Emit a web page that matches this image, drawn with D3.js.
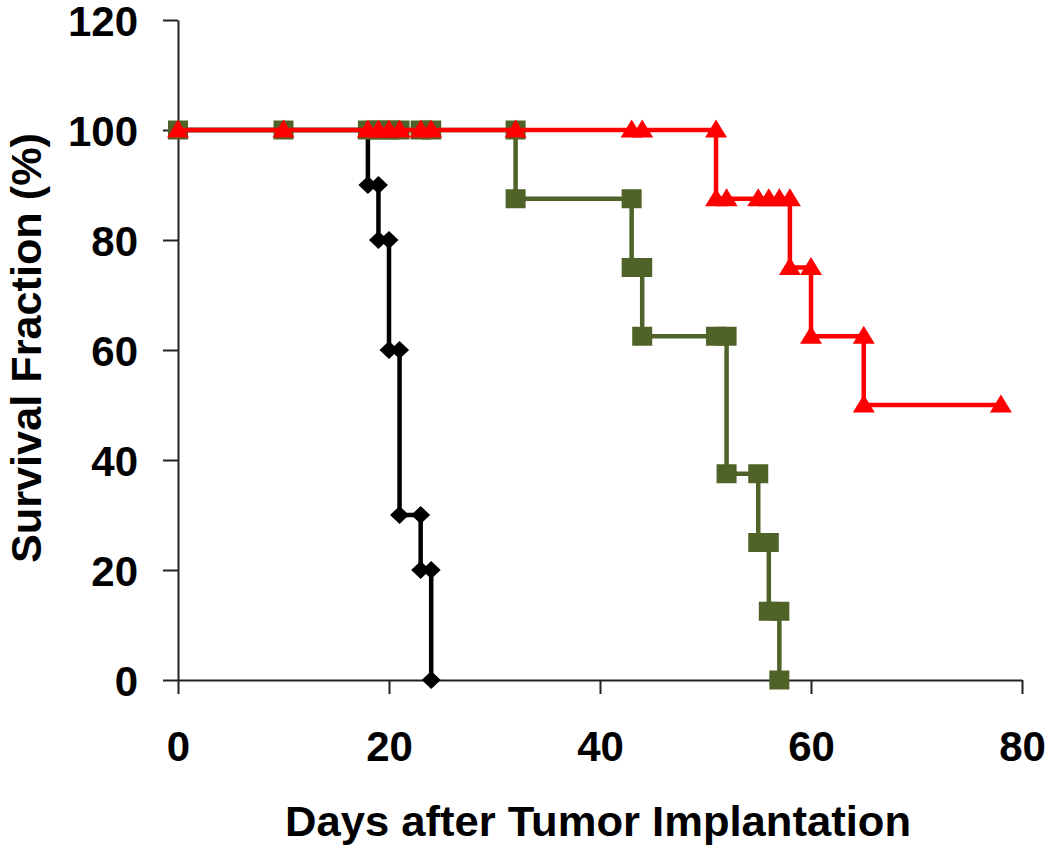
<!DOCTYPE html>
<html><head><meta charset="utf-8">
<script src="https://cdn.jsdelivr.net/npm/d3@7"></script>
<style>body{margin:0;background:#fff}</style>
</head><body>
<svg id="c" width="1050" height="848"></svg>
<script>
const xTicks = [0, 20, 40, 60, 80];
const yTicks = [0, 20, 40, 60, 80, 100, 120];

const blackDays = [0, 10, 18, 18, 19, 19, 20, 20, 21, 21, 23, 23, 24, 24];
const blackSurv = [100, 100, 100, 90, 90, 80, 80, 60, 60, 30, 30, 20, 20, 0];

const greenDays = [0, 10, 18, 19, 20, 21, 23, 24, 32, 32, 43, 43, 44, 44, 51, 52, 52, 55, 55, 56, 56, 57, 57];
const greenSurv = [100, 100, 100, 100, 100, 100, 100, 100, 100, 87.5, 87.5, 75, 75, 62.5, 62.5, 62.5, 37.5, 37.5, 25, 25, 12.5, 12.5, 0];

const redDays = [0, 10, 18, 19, 20, 21, 23, 24, 32, 43, 44, 51, 51, 52, 55, 56, 57, 58, 58, 60, 60, 65, 65, 78];
const redSurv = [100, 100, 100, 100, 100, 100, 100, 100, 100, 100, 100, 100, 87.5, 87.5, 87.5, 87.5, 87.5, 87.5, 75, 75, 62.5, 62.5, 50, 50];

const xTitle = "Days after Tumor Implantation";
const yTitle = "Survival Fraction (%)";

const svg = d3.select("#c");
const x = d3.scaleLinear().domain([0, 80]).range([178, 1022]);
const y = d3.scaleLinear().domain([0, 120]).range([680, 20]);
const FONT = "'Liberation Sans', Arial, sans-serif";

// axes
const xAxis = svg.append("g").attr("transform", `translate(0,${y(0)})`)
  .call(d3.axisBottom(x).tickValues(xTicks).tickSize(14).tickSizeOuter(0));
const yAxis = svg.append("g").attr("transform", `translate(${x(0)},0)`)
  .call(d3.axisLeft(y).tickValues(yTicks).tickSize(15).tickSizeOuter(0).tickPadding(25));
[xAxis, yAxis].forEach(a => {
  a.selectAll("path.domain").attr("stroke", "#222").attr("stroke-width", 2);
  a.selectAll(".tick line").attr("stroke", "#222").attr("stroke-width", 2);
  a.selectAll(".tick text").attr("font-family", FONT).attr("font-weight", "bold")
    .attr("font-size", 42).attr("fill", "#000");
});
xAxis.selectAll(".tick text").attr("dy", "0").attr("y", 81);
yAxis.selectAll(".tick text").attr("dy", "0.36em");

const line = d3.line().x(d => x(d[0])).y(d => y(d[1]));
const zip = (a, b) => a.map((v, i) => [v, b[i]]);

const diamond = "M0,-9L9.5,0L0,9L-9.5,0Z";
const square = "M-10,-9.5H10V9.5H-10Z";
const triangle = "M0,-10.5L11,7.5L-11,7.5Z";

const series = [
  {pts: zip(blackDays, blackSurv), color: "#000000", shape: diamond},
  {pts: zip(greenDays, greenSurv), color: "#4f6228", shape: square},
  {pts: zip(redDays, redSurv), color: "#ff0000", shape: triangle}
];
series.forEach(s => {
  const g = svg.append("g");
  g.append("path").attr("d", line(s.pts)).attr("fill", "none")
    .attr("stroke", s.color).attr("stroke-width", 4.5).attr("stroke-linejoin", "miter");
  g.selectAll("path.m").data(s.pts).join("path").attr("class", "m")
    .attr("d", s.shape).attr("fill", s.color)
    .attr("transform", d => `translate(${x(d[0])},${y(d[1])})`);
});

svg.append("text").attr("x", 598).attr("y", 836).attr("text-anchor", "middle")
  .attr("font-family", FONT).attr("font-weight", "bold").attr("font-size", 43)
  .attr("textLength", 626).attr("lengthAdjust", "spacingAndGlyphs").text(xTitle);
svg.append("text").attr("transform", "translate(41,348) rotate(-90)").attr("text-anchor", "middle")
  .attr("font-family", FONT).attr("font-weight", "bold").attr("font-size", 43)
  .attr("textLength", 430).attr("lengthAdjust", "spacingAndGlyphs").text(yTitle);
</script>
</body></html>
